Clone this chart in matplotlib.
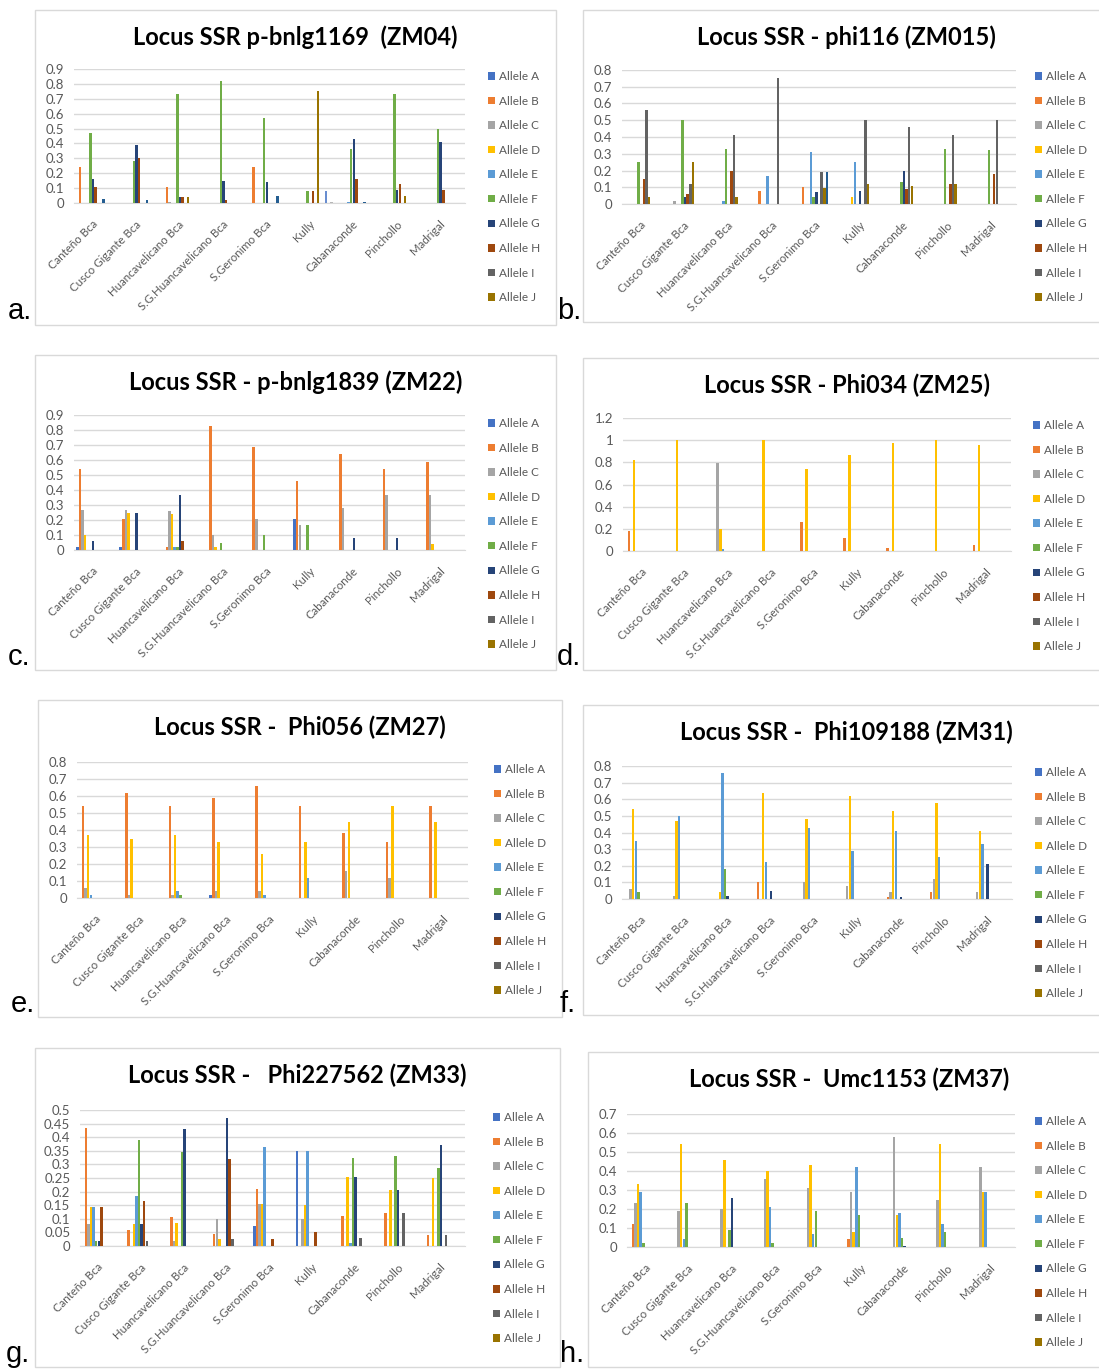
import matplotlib
matplotlib.use("Agg")
import matplotlib.pyplot as plt
import matplotlib.transforms as mtransforms
from matplotlib.patches import Rectangle
from matplotlib.ticker import FuncFormatter
import numpy as np

# populations (x categories)
populations = ["Canteño Bca", "Cusco Gigante Bca", "Huancavelicano Bca",
               "S.G.Huancavelicano Bca", "S.Geronimo Bca", "Kully",
               "Cabanaconde", "Pinchollo", "Madrigal"]

# 15 series in the workbook, only A..J listed in the legend
allele_names = ["Allele " + c for c in "ABCDEFGHIJKLMNO"]
allele_colors = ["#4472C4", "#ED7D31", "#A5A5A5", "#FFC000", "#5B9BD5",
                 "#70AD47", "#264478", "#9E480E", "#636363", "#997300",
                 "#255E91", "#43682B", "#698ED0", "#F1975A", "#B7B7B7"]

# rows = alleles A, B, C ... ; columns = populations
zm04 = [
    [0, 0, 0, 0, 0, 0, 0, 0, 0],
    [0.24, 0, 0.11, 0, 0.24, 0, 0, 0, 0],
    [0, 0, 0.01, 0, 0, 0, 0, 0, 0],
    [0, 0, 0, 0, 0, 0, 0, 0, 0],
    [0, 0, 0, 0, 0, 0, 0.01, 0, 0],
    [0.47, 0.28, 0.73, 0.82, 0.57, 0.08, 0.36, 0.73, 0.50],
    [0.16, 0.39, 0.04, 0.15, 0.14, 0, 0.43, 0.09, 0.41],
    [0.11, 0.30, 0.04, 0.02, 0, 0.08, 0.16, 0.13, 0.09],
    [0, 0, 0, 0, 0, 0, 0, 0, 0],
    [0, 0, 0.04, 0, 0, 0.75, 0, 0.05, 0],
    [0.03, 0.02, 0, 0, 0.05, 0, 0.01, 0, 0],
    [0, 0, 0, 0, 0, 0, 0, 0, 0],
    [0, 0, 0, 0, 0, 0.08, 0, 0, 0],
    [0, 0, 0, 0, 0, 0, 0, 0, 0],
    [0, 0, 0, 0, 0, 0.01, 0, 0, 0],
]
zm015 = [
    [0, 0, 0, 0, 0, 0, 0, 0, 0],
    [0, 0, 0, 0.08, 0.10, 0, 0, 0, 0],
    [0, 0.02, 0, 0, 0, 0, 0, 0, 0],
    [0, 0, 0, 0, 0, 0.04, 0, 0, 0],
    [0, 0, 0.02, 0.17, 0.31, 0.25, 0, 0, 0],
    [0.25, 0.50, 0.33, 0, 0.04, 0, 0.13, 0.33, 0.32],
    [0, 0.04, 0, 0, 0.07, 0.08, 0.20, 0, 0],
    [0.15, 0.06, 0.20, 0, 0, 0, 0.09, 0.12, 0.18],
    [0.56, 0.12, 0.41, 0.75, 0.19, 0.50, 0.46, 0.41, 0.50],
    [0.04, 0.25, 0.04, 0, 0.095, 0.12, 0.11, 0.12, 0],
    [0, 0, 0, 0, 0.19, 0, 0, 0, 0],
]
zm22 = [
    [0.02, 0.02, 0, 0, 0, 0.21, 0, 0, 0],
    [0.54, 0.21, 0.02, 0.83, 0.69, 0.46, 0.64, 0.54, 0.59],
    [0.27, 0.27, 0.26, 0.10, 0.21, 0.17, 0.28, 0.37, 0.37],
    [0.10, 0.25, 0.24, 0.02, 0, 0, 0, 0, 0.04],
    [0, 0, 0.02, 0, 0, 0, 0, 0, 0],
    [0, 0, 0.02, 0.05, 0.10, 0.17, 0, 0, 0],
    [0.06, 0.25, 0.37, 0, 0, 0, 0.08, 0.08, 0],
    [0, 0, 0.06, 0, 0, 0, 0, 0, 0],
]
zm25 = [
    [0, 0, 0, 0, 0, 0, 0, 0, 0],
    [0.18, 0, 0, 0, 0.26, 0.12, 0.03, 0, 0.05],
    [0, 0, 0.79, 0, 0, 0, 0, 0, 0],
    [0.82, 1.0, 0.20, 1.0, 0.74, 0.87, 0.97, 1.0, 0.96],
    [0, 0, 0.02, 0, 0, 0, 0, 0, 0],
]
zm27 = [
    [0, 0, 0, 0.02, 0, 0, 0, 0, 0],
    [0.54, 0.62, 0.54, 0.59, 0.66, 0.54, 0.38, 0.33, 0.54],
    [0.06, 0.02, 0.02, 0.04, 0.04, 0, 0.16, 0.12, 0],
    [0.37, 0.35, 0.37, 0.33, 0.26, 0.33, 0.45, 0.54, 0.45],
    [0.02, 0, 0.04, 0, 0.02, 0.12, 0, 0, 0],
    [0, 0, 0.02, 0, 0, 0, 0, 0, 0],
]
zm31 = [
    [0, 0, 0, 0, 0, 0, 0, 0, 0],
    [0, 0, 0, 0.10, 0, 0, 0.01, 0.04, 0],
    [0.06, 0.02, 0, 0, 0.10, 0.08, 0.04, 0.12, 0.04],
    [0.54, 0.47, 0.04, 0.64, 0.48, 0.62, 0.53, 0.58, 0.41],
    [0.35, 0.50, 0.76, 0.22, 0.43, 0.29, 0.41, 0.25, 0.33],
    [0.04, 0, 0.18, 0, 0, 0, 0, 0, 0],
    [0, 0, 0.02, 0.05, 0, 0, 0.01, 0, 0.21],
]
zm33 = [
    [0, 0, 0, 0, 0.075, 0.35, 0, 0, 0],
    [0.435, 0.06, 0.105, 0.045, 0.21, 0, 0.11, 0.12, 0.04],
    [0.08, 0, 0.02, 0.10, 0.155, 0.10, 0, 0, 0],
    [0.145, 0.08, 0.085, 0.025, 0.155, 0.15, 0.255, 0.205, 0.25],
    [0.145, 0.185, 0, 0, 0.365, 0.35, 0.01, 0, 0],
    [0.02, 0.39, 0.345, 0, 0, 0, 0.325, 0.33, 0.285],
    [0.02, 0.08, 0.43, 0.47, 0, 0, 0.255, 0.205, 0.37],
    [0.145, 0.165, 0, 0.32, 0.025, 0.05, 0, 0, 0],
    [0, 0.02, 0, 0.025, 0, 0, 0.03, 0.12, 0.04],
]
zm37 = [
    [0, 0, 0, 0, 0, 0, 0, 0, 0],
    [0.12, 0, 0, 0, 0, 0.04, 0, 0, 0],
    [0.23, 0.19, 0.20, 0.36, 0.31, 0.29, 0.58, 0.25, 0.42],
    [0.33, 0.54, 0.46, 0.40, 0.43, 0.08, 0.17, 0.54, 0.29],
    [0.29, 0.04, 0, 0.21, 0.07, 0.42, 0.18, 0.12, 0.29],
    [0.02, 0.23, 0.09, 0.02, 0.19, 0.17, 0.05, 0.08, 0],
    [0, 0, 0.26, 0, 0, 0, 0.005, 0, 0],
]

titles = ["Locus SSR p-bnlg1169  (ZM04)", "Locus SSR - phi116 (ZM015)",
          "Locus SSR - p-bnlg1839 (ZM22)", "Locus SSR - Phi034 (ZM25)",
          "Locus SSR -  Phi056 (ZM27)", "Locus SSR -  Phi109188 (ZM31)",
          "Locus SSR -   Phi227562 (ZM33)", "Locus SSR -  Umc1153 (ZM37)"]
panel_letters = ["a.", "b.", "c.", "d.", "e.", "f.", "g.", "h."]
datasets = [zm04, zm015, zm22, zm25, zm27, zm31, zm33, zm37]
y_max = [0.9, 0.8, 0.9, 1.2, 0.8, 0.8, 0.5, 0.7]
y_step = [0.1, 0.1, 0.1, 0.2, 0.1, 0.1, 0.05, 0.1]

# ---- layout in pixels of the 1099x1371 picture ----
W, H = 1099, 1371
# (box x0, y0, x1, y1), (plot x0, top y, x1, zero y), legend (x, y), letter (x, y)
layout = [
    ((35, 10, 556, 325), (74, 69, 465, 203), (488, 71), (8, 325)),
    ((583, 10, 1110, 322), (622, 70, 1016, 204), (1035, 71), (557, 325)),
    ((35, 355, 556, 670), (74, 415, 465, 550), (488, 418), (8, 671)),
    ((583, 358, 1110, 670), (623, 418, 1011, 551), (1033, 420), (557, 671)),
    ((38, 700, 562, 1017), (77, 762, 468, 898), (494, 764), (11, 1018)),
    ((583, 705, 1110, 1015), (622, 766, 1012, 899), (1035, 767), (560, 1018)),
    ((35, 1048, 560, 1367), (80, 1110, 465, 1246), (493, 1112), (6, 1368)),
    ((588, 1052, 1110, 1367), (627, 1114, 1015, 1247), (1035, 1116), (560, 1368)),
]

TXT = "#595959"
GRID = "#D9D9D9"
FONT = ["Lato", "DejaVu Sans"]

fig = plt.figure(figsize=(W / 100, H / 100), dpi=100)
fig.patch.set_facecolor("white")


def fig_rect(x0, y0, x1, y1):
    return [x0 / W, 1 - y1 / H, (x1 - x0) / W, (y1 - y0) / H]


n_series = len(allele_colors)
bw = 1 / (n_series + 1.5)  # excel gap width 150 %

for k in range(8):
    box, plot, leg, let = layout[k]
    fig.patches.append(Rectangle((box[0] / W, 1 - box[3] / H), (box[2] - box[0]) / W,
                                 (box[3] - box[1]) / H, transform=fig.transFigure,
                                 fill=False, edgecolor=GRID, linewidth=1.0))
    ax = fig.add_axes(fig_rect(*plot))
    xs = np.arange(len(populations)) + 0.5
    handles = []
    for i in range(n_series):
        vals = datasets[k][i] if i < len(datasets[k]) else [0] * len(populations)
        b = ax.bar(xs + (i - (n_series - 1) / 2) * bw, vals, bw * 0.95,
                   color=allele_colors[i], linewidth=0, zorder=3)
        handles.append(b)
    ax.set_xlim(0, len(populations))
    ax.set_ylim(0, y_max[k])
    ax.set_yticks(np.arange(0, y_max[k] + y_step[k] / 2, y_step[k]))
    ax.yaxis.set_major_formatter(FuncFormatter(lambda v, p: f"{round(v, 3):g}"))
    ax.grid(axis="y", color=GRID, linewidth=1.0, zorder=0)
    for s in ["top", "right", "left"]:
        ax.spines[s].set_visible(False)
    ax.spines["bottom"].set_color(GRID)
    ax.tick_params(axis="both", length=0, colors=TXT)
    ax.tick_params(axis="y", pad=7, labelsize=9.5)
    ax.set_xticks(xs)
    ax.set_xticklabels(populations, rotation=45, ha="right", va="center",
                       rotation_mode="anchor", fontsize=8.3, color=TXT, family=FONT)
    shift = mtransforms.ScaledTranslation(0.08, -0.02, fig.dpi_scale_trans)
    for lab in ax.get_xticklabels():
        lab.set_transform(lab.get_transform() + shift)
    ax.tick_params(axis="x", pad=14)
    for lab in ax.get_yticklabels():
        lab.set_family(FONT)

    fig.text((box[0] + box[2]) / 2 / W, 1 - (box[1] + 27) / H, titles[k],
             ha="center", va="center", fontsize=17, fontweight="bold",
             family=FONT, color="black")
    ax.legend(handles[:10], allele_names[:10], loc="upper left",
              bbox_to_anchor=(leg[0] / W, 1 - leg[1] / H), bbox_transform=fig.transFigure,
              frameon=False, labelcolor=TXT, handlelength=0.6,
              handleheight=0.6, handletextpad=0.35, labelspacing=1.15,
              borderpad=0, borderaxespad=0, prop={"family": FONT, "size": 8.5})
    fig.text(let[0] / W, 1 - let[1] / H, panel_letters[k], ha="left", va="bottom",
             fontsize=21, family=["Liberation Sans", "DejaVu Sans"], color="black")

fig.savefig("out.png", dpi=100, facecolor="white")
